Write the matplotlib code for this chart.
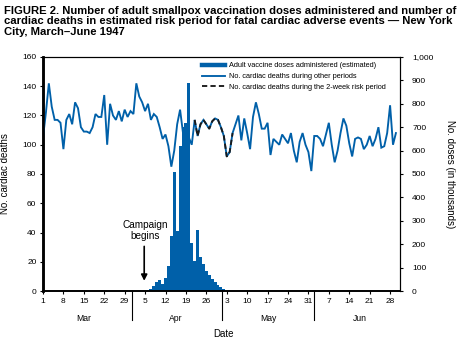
import matplotlib
matplotlib.use('Agg')
import matplotlib.pyplot as plt
import numpy as np
from matplotlib.lines import Line2D
import matplotlib.transforms as mtransforms

plt.rcParams['font.family'] = ['Liberation Sans', 'DejaVu Sans']

# Daily cardiac deaths, Mar 1 .. Jun 30 1947 (day 0 = Mar 1)
deaths = [105, 122, 142, 126, 117, 117, 115, 97, 117, 121,
          114, 129, 125, 112, 109, 109, 108, 112, 121, 119,
          119, 134, 100, 128, 120, 117, 123, 116, 124, 119,
          123, 121, 142, 133, 129, 123, 128, 117, 121, 119,
          112, 104, 107, 99, 85, 96, 114, 124, 108, 100,
          105, 100, 117, 106, 114, 117, 114, 111, 116, 118,
          117, 112, 106, 92, 95, 108, 114, 120, 103, 118,
          108, 97, 119, 129, 121, 111, 111, 115, 93, 104,
          102, 100, 107, 104, 101, 108, 96, 88, 102, 108,
          100, 95, 82, 106, 106, 104, 99, 107, 115, 100,
          88, 96, 108, 118, 113, 101, 92, 104, 105, 104,
          97, 100, 106, 99, 104, 112, 98, 99, 108, 127,
          100, 108]

# Adult vaccine doses administered (thousands), Apr 5 .. May 2
vacc_start_day = 35
doses = [2, 4, 9, 21, 37, 47, 30, 56, 107, 235,
         510, 256, 620, 700, 720, 890,
         206, 130, 261, 144, 114, 85, 68, 50, 37, 26,
         15, 8]

# 2-week risk period (day indices)
risk_start, risk_end = 52, 65

tick_days = [0, 7, 14, 21, 28, 35, 42, 49, 56, 63, 70, 77, 84, 91, 98, 105, 112, 119]
tick_labels = ['1', '8', '15', '22', '29', '5', '12', '19', '26', '3', '10', '17',
               '24', '31', '7', '14', '21', '28']
months = ['Mar', 'Apr', 'May', 'Jun']
month_label_days = [14, 45.5, 77.3, 108.7]
month_sep_days = [30.4, 61.5, 93.0]

BLUE = '#0060a9'

days = np.arange(len(deaths))
deaths = np.array(deaths)
dose_days = np.arange(vacc_start_day, vacc_start_day + len(doses))

fig = plt.figure(figsize=(4.63, 3.45), dpi=100)
ax = fig.add_axes([43 / 463, 54 / 345, 357 / 463, 234 / 345])
ax2 = ax.twinx()

ax2.bar(dose_days, doses, width=1.0, color=BLUE, linewidth=0)
ax2.set_ylim(0, 1000)
ax2.set_yticks(range(0, 1001, 100))
ax2.set_yticklabels([f'{v:,}' for v in range(0, 1001, 100)])

ax.set_zorder(ax2.get_zorder() + 1)
ax.patch.set_visible(False)

ax.plot(days, deaths, color=BLUE, lw=1.35, solid_joinstyle='miter')
rd = days[risk_start:risk_end + 1]
ax.plot(rd, deaths[risk_start:risk_end + 1], color='#1a1a1a', lw=1.35,
        dashes=(2.8, 1.7))

ax.set_xlim(0, 122.4)
ax.set_ylim(0, 160)
ax.set_yticks(range(0, 161, 20))
ax.set_xticks(tick_days)
ax.set_xticklabels(tick_labels)

ax.tick_params(axis='y', direction='out', length=2.2, width=0.8, labelsize=6, pad=2.5)
ax.tick_params(axis='x', direction='out', length=2.2, width=0.8, labelsize=6, pad=2.5)
ax2.tick_params(axis='y', direction='out', length=2.2, width=0.8, labelsize=6, pad=6.5)

for a in (ax, ax2):
    a.spines['left'].set_linewidth(1.8)
    a.spines['bottom'].set_linewidth(1.2)
    a.spines['top'].set_linewidth(0.8)
    a.spines['right'].set_linewidth(0.8)

# Month labels and separators
trans = mtransforms.blended_transform_factory(ax.transData, ax.transAxes)
for m, d in zip(months, month_label_days):
    ax.text(d, -0.118, m, transform=trans, ha='center', va='center', fontsize=6.2)
for d in month_sep_days:
    ax.plot([d, d], [0, -0.124], transform=trans, color='black', lw=0.8, clip_on=False)

ax.text(0.505, -0.185, 'Date', transform=ax.transAxes, ha='center', va='center', fontsize=7)
ax.set_ylabel('No. cardiac deaths', fontsize=7)
ax.yaxis.set_label_coords(-0.092, 0.5)
ax2.set_ylabel('No. doses (in thousands)', fontsize=7, rotation=270)
ax2.yaxis.set_label_coords(1.155, 0.5)

# Campaign begins annotation
ax.text(vacc_start_day, 41.5, 'Campaign\nbegins', ha='center', va='center', fontsize=7.2,
        linespacing=1.05)
ax.annotate('', xy=(vacc_start_day - 0.3, 7), xytext=(vacc_start_day - 0.3, 30.5),
            arrowprops=dict(arrowstyle='-|>,head_width=0.18,head_length=0.35',
                            color='black', lw=1.2, shrinkA=0, shrinkB=0))

# Legend
handles = [Line2D([], [], color=BLUE, lw=3.2),
           Line2D([], [], color=BLUE, lw=1.35),
           Line2D([], [], color='#1a1a1a', lw=1.35, dashes=(2.8, 1.7))]
labels = ['Adult vaccine doses administered (estimated)',
          'No. cardiac deaths during other periods',
          'No. cardiac deaths during the 2-week risk period']
ax.legend(handles, labels, loc='upper left', bbox_to_anchor=(0.445, 0.978),
          frameon=False, fontsize=5.3, handlelength=3.1, handletextpad=0.65,
          labelspacing=0.5, borderpad=0, borderaxespad=0)

fig.text(0.009, 0.984,
         'FIGURE 2. Number of adult smallpox vaccination doses administered and number of\n'
         'cardiac deaths in estimated risk period for fatal cardiac adverse events \u2014 New York\n'
         'City, March\u2013June 1947',
         ha='left', va='top', fontsize=8.1, fontweight='bold', linespacing=1.07)

fig.savefig('out.png', dpi=100)
